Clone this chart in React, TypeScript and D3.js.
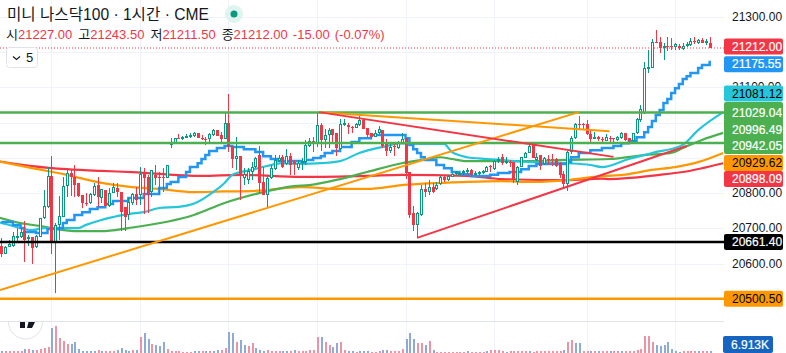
import React from "react";
import * as d3 from "d3";

const W = 786, H = 353;
const PLOT_R = 724;

const candleDir =
  "RGGGGGRGRG" + "GGGRGGGGRR" + "RRRGGRGRGG" + "RRRGGRGRRG" + "RRRGGGRGGG" +
  "GRRRGGRRGR" + "RGRGGGGRRG" + "GGGRGRRGGG" + "GRGRGGRRGG" + "RRGGRRRGGR" +
  "RGRGGRRRGG" + "RGRGGRGGGG" + "GGRGGGGRGG" + "RGRRGGGGRG" + "RGRRRRRGGG" +
  "RRRRGRRGRR" + "GGRRGGGGGG" + "RRGRRGRGGG" + "RGRGR";

const bodyTops = [
  20650,20647,20655,20678,20678,20690,20693,20675,20675,20678,
  20729,20763,20848,20848,20709,20735,20820,20857,20857,20846,
  20829,20795,20772,20798,20820,20823,20812,20809,20800,20817,
  20815,20803,20760,20775,20798,20798,20854,20854,20846,20866,
  20852,20846,20846,20880,20942,20956,20956,20959,20962,20965,
  20971,20971,20956,20953,20968,20979,20979,20965,21000,21000,
  20934,20905,20905,20854,20863,20874,20900,20908,20832,20843,
  20871,20894,20900,20902,20905,20905,20888,20885,20891,20937,
  20948,20948,20993,20993,20965,20979,20982,20971,20996,20999,
  20993,20988,20996,21008,21008,20985,20971,20971,20982,20979,
  20939,20931,20934,20942,20953,20956,20860,20744,20744,20812,
  20812,20817,20817,20823,20846,20846,20848,20854,20860,20857,
  20863,20866,20866,20858,20860,20864,20874,20877,20891,20897,
  20902,20891,20888,20888,20874,20902,20914,20934,20936,20902,
  20908,20900,20897,20897,20897,20885,20854,20917,20956,20996,
  20996,20996,20996,20968,20960,20959,20953,20959,20956,20956,
  20959,20971,20971,20956,20971,21010,21039,21155,21158,21229,
  21229,21229,21218,21218,21218,21223,21218,21218,21223,21232,
  21232,21235,21235,21232,21227,
];
const bodyBottoms = [
  20627,20627,20647,20650,20675,20675,20667,20670,20644,20647,
  20675,20729,20760,20658,20661,20709,20732,20820,20846,20823,
  20792,20772,20769,20772,20795,20789,20786,20763,20763,20800,
  20803,20746,20732,20738,20772,20780,20795,20843,20795,20803,
  20843,20843,20843,20843,20937,20939,20953,20953,20959,20962,
  20962,20956,20953,20951,20953,20965,20962,20953,20953,20931,
  20897,20897,20848,20843,20837,20860,20874,20829,20795,20795,
  20843,20868,20891,20874,20882,20880,20882,20871,20888,20888,
  20934,20942,20942,20951,20951,20965,20965,20928,20925,20993,
  20988,20985,20985,20993,20982,20965,20959,20959,20971,20934,
  20919,20919,20931,20928,20942,20857,20738,20709,20709,20738,
  20803,20803,20803,20812,20826,20837,20837,20846,20857,20854,
  20857,20863,20852,20854,20857,20861,20860,20874,20868,20894,
  20885,20885,20885,20837,20832,20874,20900,20914,20900,20894,
  20877,20882,20894,20894,20877,20851,20826,20826,20917,20956,
  20993,20993,20968,20953,20958,20953,20951,20948,20953,20953,
  20951,20956,20951,20948,20948,20971,21007,21027,21155,21155,
  21227,21212,21215,21215,21215,21215,21212,21209,21218,21220,
  21229,21226,21226,21229,21212,
];
const highs = [
  20673,20650,20667,20690,20701,20701,20721,20681,20675,20681,
  20729,20809,20874,20905,20715,20792,20846,20866,20866,20880,
  20829,20795,20800,20800,20829,20846,20812,20809,20815,20829,
  20829,20803,20760,20786,20800,20817,20874,20871,20852,20866,
  20880,20860,20871,20880,20956,20956,20968,20962,20968,20971,
  20973,20971,20965,20959,20971,20982,20979,20973,21027,21081,
  20934,20959,20905,20871,20871,20888,20902,20934,20874,20848,
  20880,20908,20908,20908,20925,20914,20894,20894,20900,20951,
  20956,20959,21030,20999,20982,20985,20982,20971,21010,21010,
  20999,20990,20999,21019,21010,20985,20971,20979,20990,20979,
  20953,20939,20942,20948,20971,20956,20860,20763,20746,20823,
  20829,20837,20829,20832,20848,20852,20852,20857,20863,20860,
  20866,20871,20868,20863,20863,20866,20877,20880,20894,20902,
  20911,20902,20894,20888,20877,20902,20917,20939,20936,20914,
  20908,20902,20908,20911,20900,20888,20863,20919,20962,20999,
  21019,20999,21008,20979,20973,20962,20959,20968,20962,20956,
  20962,20973,20971,20956,20971,21013,21050,21172,21206,21238,
  21263,21243,21226,21243,21240,21226,21223,21226,21229,21240,
  21243,21238,21240,21238,21243.5,
];
const lows = [
  20619,20627,20647,20647,20661,20673,20605,20650,20599,20644,
  20675,20727,20758,20627,20516,20667,20732,20789,20792,20789,
  20789,20758,20763,20769,20792,20760,20772,20763,20760,20800,
  20789,20693,20693,20724,20766,20766,20766,20741,20744,20789,
  20823,20795,20803,20843,20928,20939,20953,20951,20956,20956,
  20959,20956,20951,20936,20945,20962,20962,20945,20953,20917,
  20871,20866,20780,20823,20826,20837,20871,20800,20795,20758,
  20840,20866,20888,20871,20880,20852,20852,20866,20866,20880,
  20931,20917,20931,20919,20928,20928,20945,20905,20922,20990,
  20968,20971,20985,20990,20982,20959,20953,20959,20968,20928,
  20905,20914,20905,20925,20939,20840,20729,20693,20673,20735,
  20789,20795,20800,20809,20823,20832,20834,20846,20852,20854,
  20852,20854,20846,20852,20852,20854,20860,20860,20866,20885,
  20880,20882,20874,20829,20823,20874,20900,20914,20900,20891,
  20866,20880,20880,20877,20874,20843,20815,20806,20911,20953,
  20982,20982,20965,20945,20953,20948,20945,20948,20945,20945,
  20948,20953,20948,20945,20945,20968,21002,21024,21141,21155,
  21226,21198,21178,21203,21206,21206,21206,21206,21215,21218,
  21223,21223,21226,21220,21211.5,
];

const volumes = [
  5,5,5,5,5,5,12,12,10,10,
  12,14,18,75,81,45,35,27,27,33,
  12,6,5,5,5,9,5,5,5,5,
  10,15,9,6,9,9,48,60,42,27,
  24,21,33,12,6,5,5,3,3,3,
  5,5,5,5,5,5,8,8,15,63,
  60,33,39,24,21,30,15,9,5,9,
  6,6,6,6,6,6,9,6,6,6,
  9,9,48,48,33,24,18,30,33,9,
  5,5,3,5,5,5,3,3,5,8,
  8,5,5,5,12,42,60,42,30,30,
  24,36,8,3,3,3,3,3,3,3,
  3,5,3,3,3,3,5,8,10,8,
  6,3,6,6,6,6,6,6,3,6,
  6,6,6,6,6,6,10,33,39,30,
  30,6,5,5,5,5,5,5,5,5,
  5,5,5,5,5,8,12,51,51,33,
  24,21,24,33,12,5,3,5,5,5,
  5,5,5,5,6.913,
];
const volumeDir =
  "BPPPPPBPBP" + "PPPBPPPPBB" + "BBBBBPBPPP" + "BBBBPBPBBP" + "BBBPPPPPPP" +
  "BBPBPBBPPB" + "BPBBPPBBBP" + "PPPBBPBPPP" + "PPPBPPBBPP" + "BBPBBBPPPB" +
  "BPPPPBBBPP" + "BPBPPPPPPP" + "PBPPPPBPPP" + "PBPPPPPBPP" + "PPPPPPBPPB" +
  "BPPBPBPPBP" + "PBPPPPPPPP" + "BBBBBBBPPP" + "PBPPB";

const blueI = [0,3,5,6,9,12,15,16,17,19,21,23,25,27,29,33,37,41,43,44,46,48,49,51,52,53,54,56,58,60,63,66,68,70,72,78,79,81,83,84,86,88,91,93,96,105,106,107,108,109,110,113,115,117,119,122,127,129,132,135,137,139,147,148,150,153,156,159,161,163,165,167,168,169,170,171,172,173,174,175,176,177,178,179,181,182,184];
const blueP = [20718,20710,20701,20690,20687,20698,20701,20715,20724,20738,20746,20755,20760,20769,20778,20786,20798,20815,20826,20832,20846,20860,20874,20885,20897,20908,20920,20928,20934,20931,20925,20917,20905,20897,20891,20888,20894,20900,20905,20914,20920,20931,20945,20956,20965,20956,20937,20925,20914,20902,20894,20880,20871,20860,20854,20849,20852,20857,20860,20868,20877,20883,20888,20902,20914,20922,20928,20934,20942,20948,20959,20973,20988,21005,21022,21036,21056,21067,21084,21098,21110,21124,21132,21141,21155,21164,21175.55];

const cyanI = [-1,3,8,11,17,20,22,26,29,33,37,41,46,51,55,58,60,65,69,73,78,83,88,93,99,104,109,115,117,121,126,130,138,147,153,156,163,169,177,181,187.5];
const cyanP = [20718,20707,20695,20701,20701,20701,20710,20724,20732,20741,20746,20758,20761,20775,20803,20829,20852,20866,20877,20885,20883,20885,20891,20914,20931,20941,20940,20940,20917,20902,20897,20894,20888,20885,20880,20874,20897,20914,20937,20979,21030];

const greenI = [-1,5,10,13,20,26,33,50,58,67,76,80,88,95,104,109,114,117,121,138,145,158,167,174,177,182,187.5];
const greenP = [20732,20715,20707,20701,20692,20692,20701,20738,20772,20800,20820,20823,20840,20860,20885,20894,20902,20897,20891,20891,20894,20897,20908,20914,20928,20951,20971];

const orangeI = [-1,8,17,26,34,41,50,58,65,78,88,95,104,121,130,138,147,154,163,169,175,181,187.5];
const orangeP = [20891,20871,20852,20829,20817,20812,20803,20805,20806,20817,20812,20812,20823,20832,20834,20832,20837,20846,20854,20866,20874,20888,20914];

const redI = [-1,8,17,26,34,52,62,78,95,104,121,130,147,156,158,171,177,187.5];
const redP = [20891,20877,20868,20863,20860,20849,20852,20846,20849,20852,20849,20840,20837,20841,20840,20852,20860,20885];

const hLevels = [21029.04, 20942.05, 20661.4, 20500.5];
const hColors = ["#4caf50", "#4caf50", "#000000", "#ff9800"];

const trendStartI = [-0.34, 82.5, 82.5, 108];
const trendStartP = [20525, 21030, 21030, 20673];
const trendEndI = [150, 158, 159, 178];
const trendEndP = [21030, 20976, 20903, 20934];
const trendColors = ["#ff9800", "#ff9800", "#f23645", "#f23645"];

const axisTicks = [21300, 21100, 20800, 20700, 20600];
const gridPrices = [21300, 21200, 21100, 21000, 20900, 20800, 20700, 20600, 20500];
const dayStarts = [13, 36, 59, 82, 105, 128, 152, 175];

const CLOSE = 21212, O = "21227.00", Hi = "21243.50", Lo = "21211.50", Cl = "21212.00";

const x = d3.scaleLinear().domain([0, 184]).range([1.3, 709.7]);
const y = d3.scaleLinear().domain([20500.5, CLOSE]).range([298.7, 48]);
const yVol = d3.scaleLinear().domain([0, 90]).range([353, 323]);

const seriesLine = (curve: d3.CurveFactory) =>
  d3.line<[number, number]>().x((d) => x(d[0])).y((d) => y(d[1])).curve(curve);
const zip = (a: number[], b: number[]) => a.map((v, i) => [v, b[i]] as [number, number]);

const SANS = '"Liberation Sans", Arial, sans-serif';
const KR = '"Liberation Sans", "Noto Sans CJK KR", sans-serif';
const UP = "#089981", DOWN = "#f23645";

type Lab = { t: string; cy: number; bg: string; fg: string; };
const labels: Lab[] = [
  { t: "21212.00", cy: y(21212) - 1.5, bg: "#f23645", fg: "#fff" },
  { t: "21175.55", cy: 64.3, bg: "#2196f3", fg: "#fff" },
  { t: "21081.12", cy: 93.5, bg: "#26c6da", fg: "#000" },
  { t: "21029.04", cy: 112.5, bg: "#4caf50", fg: "#fff" },
  { t: "20996.49", cy: 129.5, bg: "#4caf50", fg: "#fff" },
  { t: "20942.05", cy: 146, bg: "#4caf50", fg: "#fff" },
  { t: "20929.62", cy: 163, bg: "#ff9800", fg: "#000" },
  { t: "20898.09", cy: 179, bg: "#f23645", fg: "#fff" },
  { t: "20661.40", cy: y(20661.4), bg: "#000000", fg: "#fff" },
  { t: "20500.50", cy: y(20500.5), bg: "#ff9800", fg: "#000" },
];

export default function App() {
  const n = bodyTops.length;
  const stepLine = seriesLine(d3.curveStepAfter);
  const maLine = seriesLine(d3.curveMonotoneX);
  const mas = [
    { p: zip(redI, redP), c: "#f23645" },
    { p: zip(orangeI, orangeP), c: "#ff9800" },
    { p: zip(greenI, greenP), c: "#4caf50" },
    { p: zip(cyanI, cyanP), c: "#26c6da" },
  ];
  return (
    <svg width={W} height={H} viewBox={`0 0 ${W} ${H}`}
      style={{ position: "fixed", left: 0, top: 0, display: "block", background: "#fff" }}>
      <defs>
        <clipPath id="plot"><rect x={0} y={0} width={PLOT_R} height={321} /></clipPath>
        <clipPath id="pane"><rect x={0} y={322} width={PLOT_R} height={31} /></clipPath>
      </defs>

      {/* grid */}
      <g stroke="#f0f3fa" strokeWidth={1} shapeRendering="crispEdges">
        {gridPrices.map((p) => <line key={p} x1={0} x2={PLOT_R} y1={Math.round(y(p)) + 0.5} y2={Math.round(y(p)) + 0.5} />)}
        {dayStarts.map((i) => <line key={i} x1={Math.round(x(i)) + 0.5} x2={Math.round(x(i)) + 0.5} y1={0} y2={H} />)}
      </g>

      {/* logo */}
      <g clipPath="url(#pane)">
        <circle cx={25.5} cy={322} r={17} fill="#fff" stroke="#e0e3eb" strokeWidth={1} />
        <path d="M20 320H25V328H20Z M29 320H36L32 328H27Z" fill="#131722" />
      </g>

      {/* pane separator */}
      <line x1={0} x2={PLOT_R} y1={321.5} y2={321.5} stroke="#e0e3eb" shapeRendering="crispEdges" />

      {/* volume */}
      <g clipPath="url(#pane)" shapeRendering="crispEdges">
        {volumes.map((v, i) => (
          <rect key={i} x={Math.round(x(i))} width={2} y={yVol(v)} height={353 - yVol(v)}
            fill={volumeDir[i] === "B" ? "#8dabd6" : "#ef92a3"} />
        ))}
      </g>

      <g clipPath="url(#plot)">
        {/* moving averages */}
        {mas.map((m) => (
          <path key={m.c} d={maLine(m.p) || ""} fill="none" stroke={m.c} strokeWidth={2.2} />
        ))}
        <path d={stepLine(zip(blueI, blueP)) || ""} fill="none" stroke="#2196f3" strokeWidth={2.5} />

        {/* candles */}
        <g shapeRendering="crispEdges">
          {d3.range(n).map((i) => {
            const cx = Math.round(x(i));
            const up = candleDir[i] === "G";
            const col = up ? UP : DOWN;
            const t = Math.round(y(bodyTops[i]));
            const b = Math.max(Math.round(y(bodyBottoms[i])), t + 1);
            return (
              <g key={i}>
                <rect x={cx} width={1} y={y(highs[i])} height={Math.max(0, y(lows[i]) - y(highs[i]))} fill={col} />
                {up
                  ? <rect x={cx - 0.5} y={t + 0.5} width={2} height={Math.max(b - t - 1, 1)} fill="#fff" stroke={col} />
                  : <rect x={cx - 1} y={t} width={3} height={b - t} fill={col} />}
              </g>
            );
          })}
        </g>

        {/* price line */}
        <line x1={0} x2={PLOT_R} y1={y(CLOSE)} y2={y(CLOSE)} stroke="#f23645" strokeWidth={1} strokeDasharray="1 2" />

        {/* horizontal levels */}
        {hLevels.map((p, i) => (
          <line key={p} x1={0} x2={PLOT_R} y1={y(p)} y2={y(p)} stroke={hColors[i]} strokeWidth={2.5} />
        ))}
        {/* trend lines */}
        {trendStartI.map((s, i) => (
          <line key={i} x1={x(s)} y1={y(trendStartP[i])} x2={x(trendEndI[i])} y2={y(trendEndP[i])}
            stroke={trendColors[i]} strokeWidth={2} />
        ))}
      </g>

      {/* price axis */}
      <g fontFamily={SANS} fontSize={12} dominantBaseline="central">
        {axisTicks.map((p) => (
          <text key={p} x={732} y={y(p)} fill="#131722">{p.toFixed(2)}</text>
        ))}
        <rect x={724} y={102} width={59} height={52} rx={2} fill="#4caf50" />
        {labels.map((l) => {
          const green = l.bg === "#4caf50";
          return (
            <g key={l.t}>
              {!green && <rect x={724} y={l.cy - 8} width={59} height={16} rx={2} fill={l.bg} />}
              <text x={732} y={l.cy} fill={l.fg} stroke={l.fg === "#fff" ? "#fff" : "none"} strokeWidth={0.2}>{l.t}</text>
            </g>
          );
        })}
        <rect x={723} y={336} width={50} height={17} rx={2} fill="#1565c0" />
        <text x={731} y={344.5} fill="#fff" stroke="#fff" strokeWidth={0.2}>6.913K</text>
      </g>

      {/* header */}
      <text x={7} y={20} fontFamily={KR} fontSize={15.6} fill="#131722">미니 나스닥100 · 1시간 · CME</text>
      <circle cx={234} cy={14} r={9} fill="#dff3ef" />
      <circle cx={234} cy={14} r={3.5} fill="#089981" />
      <text x={6} y={39} fontFamily={KR} fontSize={13} fill="#131722">
        시<tspan fill="#f23645">{O}</tspan>
        <tspan dx={6}>고</tspan><tspan fill="#f23645">{Hi}</tspan>
        <tspan dx={6}>저</tspan><tspan fill="#f23645">{Lo}</tspan>
        <tspan dx={6}>종</tspan><tspan fill="#f23645">{Cl}</tspan>
        <tspan dx={5} fill="#f23645">-15.00</tspan>
        <tspan dx={5} fill="#f23645">(-0.07%)</tspan>
      </text>

      {/* collapse button */}
      <rect x={6.5} y={47.5} width={31} height={20} rx={3} fill="#fff" stroke="#e0e3eb" />
      <path d="M13 56.5l3.5 3 3.5-3" fill="none" stroke="#131722" strokeWidth={1.1} />
      <text x={26} y={62} fontFamily={SANS} fontSize={13} fill="#131722">5</text>
    </svg>
  );
}
